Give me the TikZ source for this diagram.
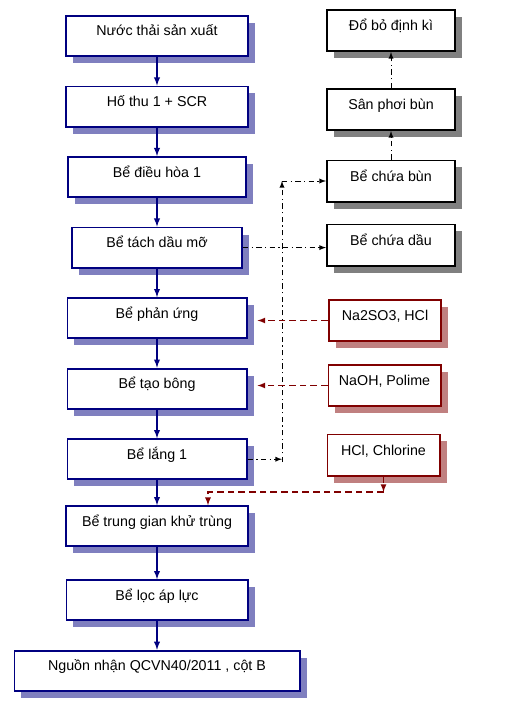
\documentclass[tikz,border=0pt]{standalone}
\usepackage{fontspec}
\setmainfont{Liberation Sans}
\usetikzlibrary{shapes,arrows,positioning,shadows}
\definecolor{tanknavy}{HTML}{000080}
\definecolor{tankshade}{HTML}{7F7FBF}
\definecolor{dosered}{HTML}{800000}
\definecolor{doseshade}{HTML}{C08080}
\definecolor{sludgeshade}{HTML}{808080}
\tikzset{tank/.style={rectangle, draw=tanknavy, line width=1.4pt, fill=white, minimum width=136.6pt, minimum height=30.1pt,
 text height=8pt, text depth=8pt, inner sep=2pt, font=\fontsize{10.7}{12}\selectfont,
 drop shadow={shadow xshift=5.25pt, shadow yshift=-5.25pt, fill=tankshade, opacity=1}}}
\tikzset{sludgebox/.style={rectangle, draw=black, line width=1.4pt, fill=white, minimum width=96.1pt, minimum height=30.85pt,
 text height=8pt, text depth=8pt, inner sep=2pt, font=\fontsize{10.7}{12}\selectfont,
 drop shadow={shadow xshift=5.25pt, shadow yshift=-5.25pt, fill=sludgeshade, opacity=1}}}
\tikzset{dosebox/.style={rectangle, draw=dosered, line width=1.4pt, fill=white, minimum width=84.1pt, minimum height=30.85pt,
 text height=8pt, text depth=8pt, inner sep=2pt, font=\fontsize{10.7}{12}\selectfont,
 drop shadow={shadow xshift=5.25pt, shadow yshift=-5.25pt, fill=doseshade, opacity=1}}}
\tikzset{flow/.style={draw=tanknavy, line width=1.1pt, -latex}}
\tikzset{chain/.style={draw=black, line width=0.75pt, dash pattern=on 4pt off 2.5pt on 1pt off 2.5pt, -latex}}
\tikzset{dosing/.style={draw=dosered, line width=1pt, dash pattern=on 5pt off 3pt, -latex}}
\begin{document}
\begin{tikzpicture}[x=0.75pt, y=-0.75pt, node distance=21.4pt]
        \useasboundingbox (0,0) rectangle (528,710);
        \node[tank] at (157,36) (intake){Nước thải sản xuất};
        \node[tank, below=of intake] (pit){Hố thu 1 + SCR};
        \node[tank, minimum width=133.6pt, below=of pit] (equal){Bể điều hòa 1};
        \node[tank, minimum width=127.6pt, below=of equal] (grease){Bể tách dầu mỡ};
        \node[tank, minimum width=134.35pt, below=of grease] (react){Bể phản ứng};
        \node[tank, minimum width=134.35pt, below=of react] (floc){Bể tạo bông};
        \node[tank, minimum width=134.35pt, below=of floc] (settle){Bể lắng 1};
        \node[tank, below=18.75pt of settle] (disinfect){Bể trung gian khử trùng};
        \node[tank, minimum width=135.85pt, below=24pt of disinfect] (filter){Bể lọc áp lực};
        \node[tank, minimum width=213.85pt, below=of filter] (outlet){Nguồn nhận QCVN40/2011 , cột B};

        \node[sludgebox] at (391,30.5) (dump){Đổ bỏ định kì};
        \node[sludgebox] at (391,109.5) (dry){Sân phơi bùn};
        \node[sludgebox] at (391,181) (bed){Bể chứa bùn};
        \node[sludgebox] at (391,245) (oil){Bể chứa dầu};

        \node[dosebox] at (385,320.5) (sulfite){Na2SO3, HCl};
        \node[dosebox] at (384.5,385.5) (polymer){NaOH, Polime};
        \node[dosebox] at (383.5,455) (chlorine){HCl, Chlorine};

        \coordinate (sludgetop) at (282,181);
        \coordinate (sludgefoot) at (282,462);
        \coordinate (chlorleft) at (208,492);

        \foreach \from/\to in {intake/pit, pit/equal, equal/grease, grease/react, react/floc,
          floc/settle, settle/disinfect, disinfect/filter, filter/outlet}
          \path[flow] (\from) -- (\to);

        \path[chain] (grease.east) -- (grease.east -| oil.west);
        \path[chain] (settle.east) -- (settle.east -| sludgefoot);
        \path[chain] (sludgefoot) -- (sludgetop);
        \path[chain] (sludgetop) -- (bed.west);
        \path[chain] (bed.north) -- (dry.south);
        \path[chain] (dry.north) -- (dump.south);

        \path[dosing, shorten >=7.5pt] (sulfite.west) -- (sulfite.west -| react.east);
        \path[dosing, shorten >=7.5pt] (polymer.west) -- (polymer.west -| floc.east);
        \path[dosing] (chlorine.south) -- (chlorine.south |- chlorleft);
        \path[dosing] (chlorine.south |- chlorleft) -- (chlorleft) -- (chlorleft |- disinfect.north);
      \end{tikzpicture}
\end{document}
